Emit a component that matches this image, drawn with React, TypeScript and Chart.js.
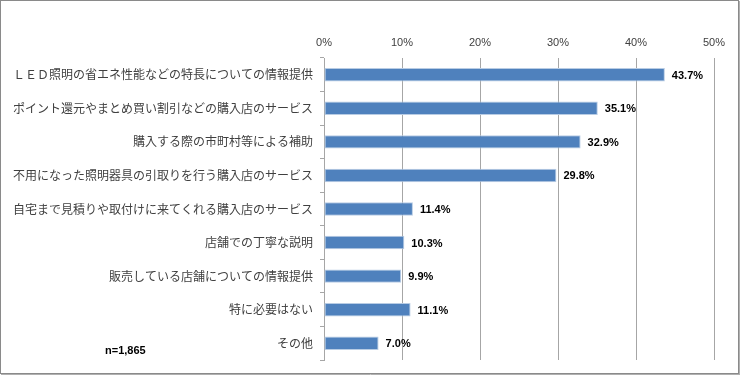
import React, { useEffect, useRef } from "react";
import { Chart, registerables } from "chart.js";

Chart.register(...registerables);

const categories = [
  "ＬＥＤ照明の省エネ性能などの特長についての情報提供",
  "ポイント還元やまとめ買い割引などの購入店のサービス",
  "購入する際の市町村等による補助",
  "不用になった照明器具の引取りを行う購入店のサービス",
  "自宅まで見積りや取付けに来てくれる購入店のサービス",
  "店舗での丁寧な説明",
  "販売している店舗についての情報提供",
  "特に必要はない",
  "その他",
];
const values = [43.7, 35.1, 32.9, 29.8, 11.4, 10.3, 9.9, 11.1, 7.0];
const xTicks = [0, 10, 20, 30, 40, 50];
const sampleNote = "n=1,865";

export default function App() {
  const ref = useRef<HTMLCanvasElement | null>(null);

  useEffect(() => {
    document.body.style.margin = "0";
    const canvas = ref.current;
    if (!canvas) return;

    const labelsPlugin = {
      id: "extras",
      afterDatasetsDraw(chart: any) {
        const ctx = chart.ctx;
        const meta = chart.getDatasetMeta(0);
        ctx.save();
        ctx.font = "bold 11px 'Liberation Sans', Arial, sans-serif";
        ctx.fillStyle = "#000000";
        ctx.textAlign = "left";
        ctx.textBaseline = "middle";
        meta.data.forEach((bar: any, i: number) => {
          ctx.fillText(values[i].toFixed(1) + "%", bar.x + 7, bar.y + 1);
        });
        ctx.fillText(sampleNote, 105, 351);
        ctx.restore();
      },
      afterDraw(chart: any) {
        const ctx = chart.ctx;
        ctx.save();
        ctx.strokeStyle = "#8a8a8a";
        ctx.lineWidth = 1;
        ctx.strokeRect(0.5, 0.5, 738, 373);
        ctx.beginPath();
        ctx.moveTo(739.5, 1);
        ctx.lineTo(739.5, 375);
        ctx.moveTo(1, 374.5);
        ctx.lineTo(740, 374.5);
        ctx.strokeStyle = "#b0b0b0";
        ctx.stroke();
        ctx.restore();
      },
    };

    const chart = new Chart(canvas, {
      type: "bar",
      data: {
        labels: categories,
        datasets: [
          {
            data: values,
            backgroundColor: "#4f81bd",
            borderColor: "#b8cce4",
            borderWidth: 1,
            borderSkipped: false,
            barPercentage: 0.4,
            categoryPercentage: 1,
          },
        ],
      },
      options: {
        indexAxis: "y",
        animation: false,
        responsive: false,
        maintainAspectRatio: false,
        layout: { padding: { left: 0, right: 26, top: 0, bottom: 15 } },
        plugins: {
          legend: { display: false },
          tooltip: { enabled: false },
        },
        scales: {
          x: {
            position: "top",
            min: 0,
            max: 50,
            afterFit(scale: any) {
              scale.height = 58;
            },
            afterBuildTicks(scale: any) {
              scale.ticks = xTicks.map((v) => ({ value: v }));
            },
            ticks: {
              color: "#404040",
              font: { family: "'Liberation Sans', Arial, sans-serif", size: 11 },
              padding: 8,
              callback: (v: any) => v + "%",
            },
            grid: {
              color: "#a6a6a6",
              drawTicks: false,
            },
            border: { display: false },
          },
          y: {
            afterFit(scale: any) {
              scale.width = 324;
            },
            ticks: {
              color: "#404040",
              font: { family: "'Noto Sans CJK JP', sans-serif", size: 12 },
              padding: 7,
            },
            grid: {
              offset: true,
              drawOnChartArea: false,
              tickLength: 4,
              color: "#a6a6a6",
            },
            border: { display: true, color: "#a6a6a6" },
          },
        },
      },
      plugins: [labelsPlugin],
    } as any);

    return () => chart.destroy();
  }, []);

  return (
    <div style={{ position: "relative", width: 740, height: 375 }}>
      <canvas ref={ref} width={740} height={375} style={{ display: "block", width: 740, height: 375 }} />
    </div>
  );
}
